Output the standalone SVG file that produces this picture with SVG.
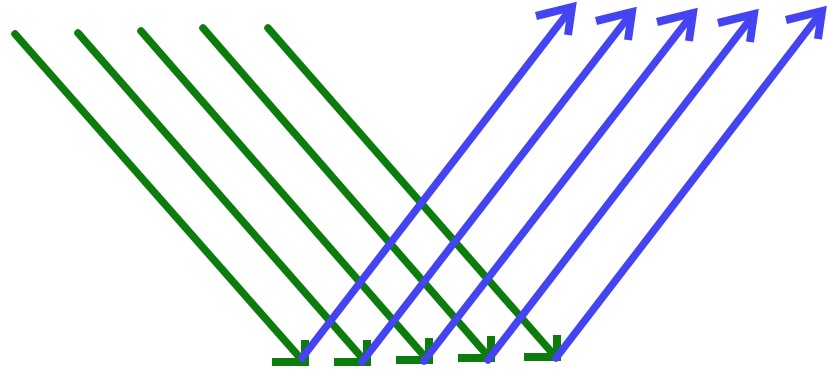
<svg xmlns="http://www.w3.org/2000/svg" width="827" height="374" viewBox="0 0 827 374">
  <style>
    .g { stroke: #0c7c0c; fill: none; stroke-linecap: round; stroke-linejoin: miter; }
    .b { stroke: #4444f2; fill: none; stroke-linecap: round; stroke-linejoin: miter; }
    .shaft { stroke-width: 7.5; }
    .head { stroke-width: 8; stroke-linecap: butt; }
  </style>
  <rect width="827" height="374" fill="#ffffff"/>
  <g id="connectors">
    <g id="incident">
      <g id="g1"><path class="g shaft" d="M15,34 L302,360"/><path class="g head" d="M272,362 L305,362 L305,340"/></g>
      <g id="g2"><path class="g shaft" d="M78,33 L364,360"/><path class="g head" d="M334,362 L367,362 L367,340"/></g>
      <g id="g3"><path class="g shaft" d="M141,31 L426,358"/><path class="g head" d="M396,360 L429,360 L429,338"/></g>
      <g id="g4"><path class="g shaft" d="M203,28 L488,356"/><path class="g head" d="M458,358 L491,358 L491,336"/></g>
      <g id="g5"><path class="g shaft" d="M268,28 L554,355"/><path class="g head" d="M524,357 L557,357 L557,335"/></g>
    </g>
    <g id="reflected">
      <g id="b1"><path class="b shaft" d="M302,358 L570,10"/><path class="b head" d="M536,16 L572,7 L568,35"/></g>
      <g id="b2"><path class="b shaft" d="M362,362 L630,15"/><path class="b head" d="M596,21 L632,12 L628,40"/></g>
      <g id="b3"><path class="b shaft" d="M424,361 L691,16"/><path class="b head" d="M657,22 L693,13 L689,41"/></g>
      <g id="b4"><path class="b shaft" d="M488,360 L752,17"/><path class="b head" d="M718,23 L754,14 L750,42"/></g>
      <g id="b5"><path class="b shaft" d="M556,358 L820,14"/><path class="b head" d="M786,20 L822,11 L818,39"/></g>
    </g>
  </g>
</svg>
